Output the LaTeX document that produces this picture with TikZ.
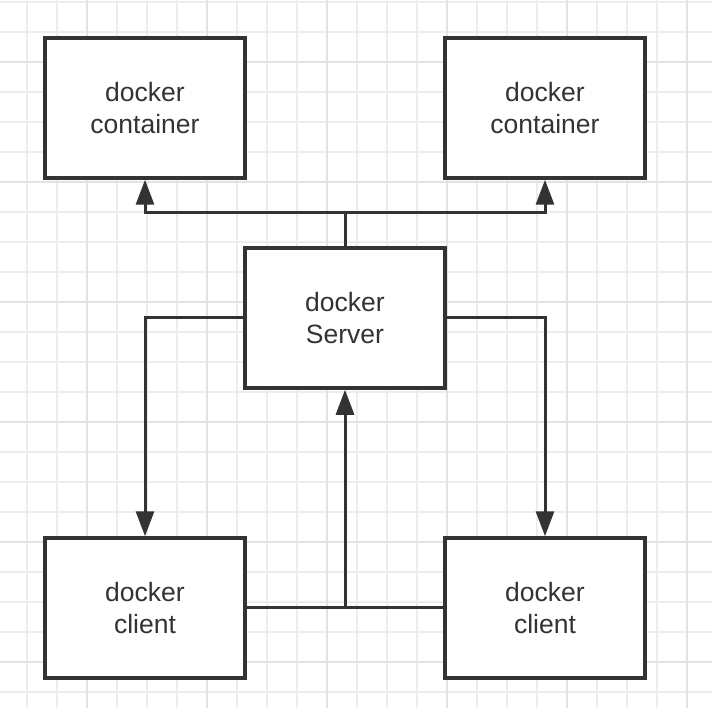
\documentclass[tikz,border=0pt]{standalone}
\usepackage{fontspec}
\setmainfont{Liberation Sans}
\usetikzlibrary{arrows.meta}
\definecolor{ink}{HTML}{333333}
\definecolor{gridminor}{HTML}{EDEDED}
\definecolor{gridmajor}{HTML}{E2E2E2}
\tikzset{
  boxnode/.style={draw=ink, line width=3.5pt, fill=white, minimum width=200pt, minimum height=140pt,
    inner sep=0pt, align=center, text=ink, font=\fontsize{26.5}{32}\selectfont},
  conn/.style={draw=ink, line width=3pt},
  arr/.style={conn, -{Triangle[length=25pt,width=18pt]}},
}
\begin{document}
\begin{tikzpicture}[x=1pt,y=-1pt]
\useasboundingbox (0,0) rectangle (712,708);
\fill[white] (0,0) rectangle (712,708);
% grid
\foreach \gx in {27,57,...,717} {\draw[gridminor, line width=1.5pt] (\gx,0) -- (\gx,708);}
\foreach \gy in {2,32,...,708} {\draw[gridminor, line width=1.5pt] (0,\gy) -- (712,\gy);}
\foreach \gx in {87,207,327,447,567,687} {\draw[gridmajor, line width=2pt] (\gx,0) -- (\gx,708);}
\foreach \gy in {62,182,302,422,542,662} {\draw[gridmajor, line width=2pt] (0,\gy) -- (712,\gy);}
% nodes
\node[boxnode] (c1) at (145,108) {docker\\container};
\node[boxnode] (c2) at (545,108) {docker\\container};
\node[boxnode] (s) at (345,318) {docker\\Server};
\node[boxnode] (k1) at (145,608) {docker\\client};
\node[boxnode] (k2) at (545,608) {docker\\client};
\coordinate (top) at (345,213);
\coordinate (bot) at (345,607);
% connectors
\draw[conn] (s.north) -- (top);
\draw[arr] (top) -| (c1.south);
\draw[arr] (top) -| (c2.south);
\draw[arr] (s.west) -| (k1.north);
\draw[arr] (s.east) -| (k2.north);
\draw[conn] (k1.east |- bot) -- (k2.west |- bot);
\draw[arr] (bot) -- (s.south);
\end{tikzpicture}
\end{document}
